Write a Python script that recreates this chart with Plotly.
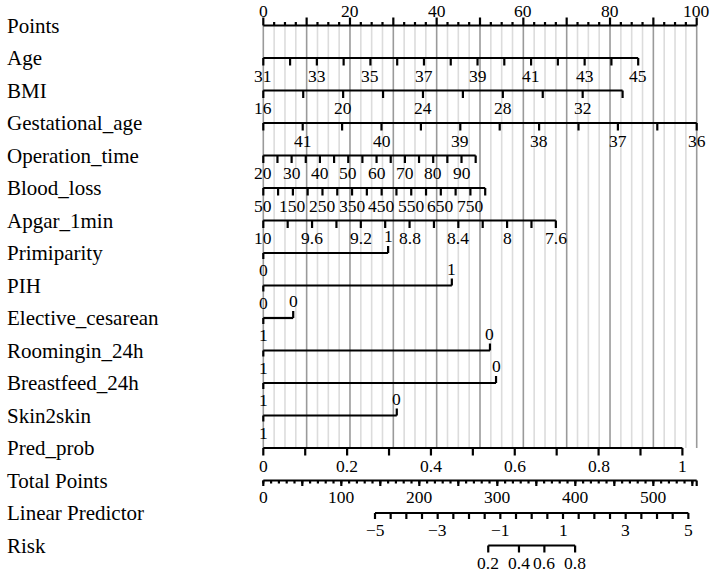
import plotly.graph_objects as go
import math

# ---------------- data ----------------
row_names = ["Points", "Age", "BMI", "Gestational_age", "Operation_time", "Blood_loss",
             "Apgar_1min", "Primiparity", "PIH", "Elective_cesarean", "Roomingin_24h",
             "Breastfeed_24h", "Skin2skin", "Pred_prob", "Total Points",
             "Linear Predictor", "Risk"]

# Points scale
points_major = [0, 10, 20, 30, 40, 50, 60, 70, 80, 90, 100]
points_labels = [0, 20, 40, 60, 80, 100]
points_minor = [2.5, 5, 7.5, 12.5, 15, 17.5, 22.5, 25, 27.5, 32.5, 35, 37.5, 42.5, 45, 47.5,
                52.5, 55, 57.5, 62.5, 65, 67.5, 72.5, 75, 77.5, 82.5, 85, 87.5, 92.5, 95, 97.5]

# continuous predictors: tick values, labelled values, points at first / last tick
age_ticks = [31, 32, 33, 34, 35, 36, 37, 38, 39, 40, 41, 42, 43, 44, 45]
age_labels = [31, 33, 35, 37, 39, 41, 43, 45]
age_pts = [0, 86.5]

bmi_ticks = [16, 18, 20, 22, 24, 26, 28, 30, 32, 34]
bmi_labels = [16, 20, 24, 28, 32]
bmi_pts = [0, 82.9]

gest_ticks = [41.5, 41, 40.5, 40, 39.5, 39, 38.5, 38, 37.5, 37, 36.5, 36]
gest_labels = [41, 40, 39, 38, 37, 36]
gest_pts = [0, 100]

op_ticks = [20, 25, 30, 35, 40, 45, 50, 55, 60, 65, 70, 75, 80, 85, 90, 95]
op_labels = [20, 30, 40, 50, 60, 70, 80, 90]
op_pts = [0, 49.0]

blood_ticks = [50, 100, 150, 200, 250, 300, 350, 400, 450, 500, 550, 600, 650, 700, 750, 800]
blood_labels = [50, 150, 250, 350, 450, 550, 650, 750]
blood_pts = [0, 51.2]

apgar_ticks = [10, 9.8, 9.6, 9.4, 9.2, 9.0, 8.8, 8.6, 8.4, 8.2, 8.0, 7.8, 7.6]
apgar_labels = [10, 9.6, 9.2, 8.8, 8.4, 8, 7.6]
apgar_pts = [0, 67.5]

pred_ticks = [0, 0.1, 0.2, 0.3, 0.4, 0.5, 0.6, 0.7, 0.8, 0.9, 1]
pred_labels = [0, 0.2, 0.4, 0.6, 0.8, 1]
pred_pts = [0, 96.7]

# binary predictors: (label at 0 points, label at max, points at max)
primiparity = ("0", "1", 28.8)
pih = ("0", "1", 43.5)
elective = ("1", "0", 6.9)
rooming = ("1", "0", 52.3)
breastfeed = ("1", "0", 53.7)
skin2skin = ("1", "0", 30.8)

# Total points
total_ticks = [0, 10, 20, 30, 40, 50, 60, 70, 80, 90, 100, 110, 120, 130, 140, 150, 160, 170,
               180, 190, 200, 210, 220, 230, 240, 250, 260, 270, 280, 290, 300, 310, 320, 330,
               340, 350, 360, 370, 380, 390, 400, 410, 420, 430, 440, 450, 460, 470, 480, 490,
               500, 510, 520, 530, 540, 550]
total_major = [0, 50, 100, 150, 200, 250, 300, 350, 400, 450, 500, 550]
total_labels = [0, 100, 200, 300, 400, 500]
total_max = 555.6          # total points equal to 100 points

# Linear predictor
lp_ticks = [-5, -4.5, -4, -3.5, -3, -2.5, -2, -1.5, -1, -0.5, 0, 0.5, 1, 1.5, 2, 2.5, 3, 3.5,
            4, 4.5, 5]
lp_labels = [-5, -3, -1, 1, 3, 5]
lp_anchor_total = [143.2, 544.9]   # total points at LP -5 and LP 5
lp_anchor_lp = [-5, 5]

# Risk
risk_ticks = [0.2, 0.4, 0.6, 0.8]
risk_labels = [0.2, 0.4, 0.6, 0.8]

# ---------------- geometry ----------------
W, H = 714, 572
X0_PX, PX_PER_PT = 263.3, 4.334
ROW0_PX, ROW_PX = 25.5, 32.5
x_range = [-X0_PX / PX_PER_PT, (W - X0_PX) / PX_PER_PT]
y_range = [(H - ROW0_PX) / ROW_PX, -ROW0_PX / ROW_PX]


def dy(px):
    return px / ROW_PX


def lin(v, vals, pts):
    v0, v1 = vals[0], vals[-1]
    return pts[0] + (v - v0) / (v1 - v0) * (pts[1] - pts[0])


def fmt(v):
    s = f"{v:g}"
    return s.replace("-", "\u2212")


FONT = "Times New Roman"
TICK_FS = 17.5
LABEL_FS = 21

lx, ly = [], []          # black lines
ann = []


def seg(x0, y0, x1, y1):
    lx.extend([x0, x1, None])
    ly.extend([y0, y1, None])


def label(x, y, text, size=TICK_FS):
    ann.append(dict(x=x, y=y, xref="x", yref="y", text=text, showarrow=False,
                    xanchor="center", yanchor="middle",
                    font=dict(family=FONT, size=size, color="black")))


# Points axis (row 0)
r = 0
seg(0, r, 100, r)
for v in points_major:
    seg(v, r, v, r - dy(8))
for v in points_minor:
    seg(v, r, v, r - dy(3.5))
for v in points_labels:
    label(v, r - dy(14.5), fmt(v))

# grid
gx_l, gy_l, gx_d, gy_d = [], [], [], []
for v in points_minor:
    gx_l.extend([v, v, None]); gy_l.extend([0, 13, None])
for v in points_major:
    gx_d.extend([v, v, None]); gy_d.extend([0, 13, None])


def cont_row(r, ticks, labels, pts, tl=7.5):
    p = [lin(v, ticks, pts) for v in ticks]
    seg(min(p), r, max(p), r)
    for x in p:
        seg(x, r, x, r + dy(tl))
    for v in labels:
        label(lin(v, ticks, pts), r + dy(17.5), fmt(v))


cont_row(1, age_ticks, age_labels, age_pts)
cont_row(2, bmi_ticks, bmi_labels, bmi_pts)
cont_row(3, gest_ticks, gest_labels, gest_pts)
cont_row(4, op_ticks, op_labels, op_pts)
cont_row(5, blood_ticks, blood_labels, blood_pts)
cont_row(6, apgar_ticks, apgar_labels, apgar_pts)


def bin_row(r, spec):
    left, right, pmax = spec
    seg(0, r, pmax, r)
    seg(0, r, 0, r + dy(6))
    seg(pmax, r, pmax, r - dy(7))
    label(0, r + dy(17), left)
    label(pmax, r - dy(17), right)


bin_row(7, primiparity)
bin_row(8, pih)
bin_row(9, elective)
bin_row(10, rooming)
bin_row(11, breastfeed)
bin_row(12, skin2skin)

cont_row(13, pred_ticks, pred_labels, pred_pts)

# Total points (row 14)
r = 14
tp = lambda t: t * 100 / total_max
seg(0, r, 100, r)
for t in total_ticks:
    seg(tp(t), r, tp(t), r + dy(3))
for t in total_major:
    seg(tp(t), r, tp(t), r + dy(5.5))
seg(100, r, 100, r + dy(5.5))
for t in total_labels:
    label(tp(t), r + dy(16.5), fmt(t))

# Linear predictor (row 15)
r = 15


def lp_to_pts(l):
    t = lin(l, lp_anchor_lp, lp_anchor_total)
    return tp(t)


seg(lp_to_pts(lp_ticks[0]), r, lp_to_pts(lp_ticks[-1]), r)
for l in lp_ticks:
    seg(lp_to_pts(l), r, lp_to_pts(l), r + dy(6))
for l in lp_labels:
    label(lp_to_pts(l), r + dy(17), fmt(l))

# Risk (row 16)
r = 16
rp = [lp_to_pts(math.log(q / (1 - q))) for q in risk_ticks]
seg(min(rp), r, max(rp), r)
for x in rp:
    seg(x, r, x, r + dy(7))
for q in risk_labels:
    label(lp_to_pts(math.log(q / (1 - q))), r + dy(17), fmt(q))

# row names
for i, name in enumerate(row_names):
    ann.append(dict(x=5 / W, y=i, xref="paper", yref="y", text=name, showarrow=False,
                    xanchor="left", yanchor="middle",
                    font=dict(family=FONT, size=LABEL_FS, color="black")))

fig = go.Figure()
fig.add_trace(go.Scatter(x=gx_l, y=gy_l, mode="lines", line=dict(color="#dcdcdc", width=1.6),
                         hoverinfo="skip", showlegend=False))
fig.add_trace(go.Scatter(x=gx_d, y=gy_d, mode="lines", line=dict(color="#9a9a9a", width=1.6),
                         hoverinfo="skip", showlegend=False))
fig.add_trace(go.Scatter(x=lx, y=ly, mode="lines", line=dict(color="black", width=2.2),
                         hoverinfo="skip", showlegend=False))

fig.update_layout(width=W, height=H, margin=dict(l=0, r=0, t=0, b=0),
                  paper_bgcolor="white", plot_bgcolor="white",
                  font=dict(family=FONT),
                  xaxis=dict(range=x_range, visible=False, fixedrange=True),
                  yaxis=dict(range=y_range, visible=False, fixedrange=True),
                  annotations=ann, showlegend=False)

fig.write_html("out.html")
